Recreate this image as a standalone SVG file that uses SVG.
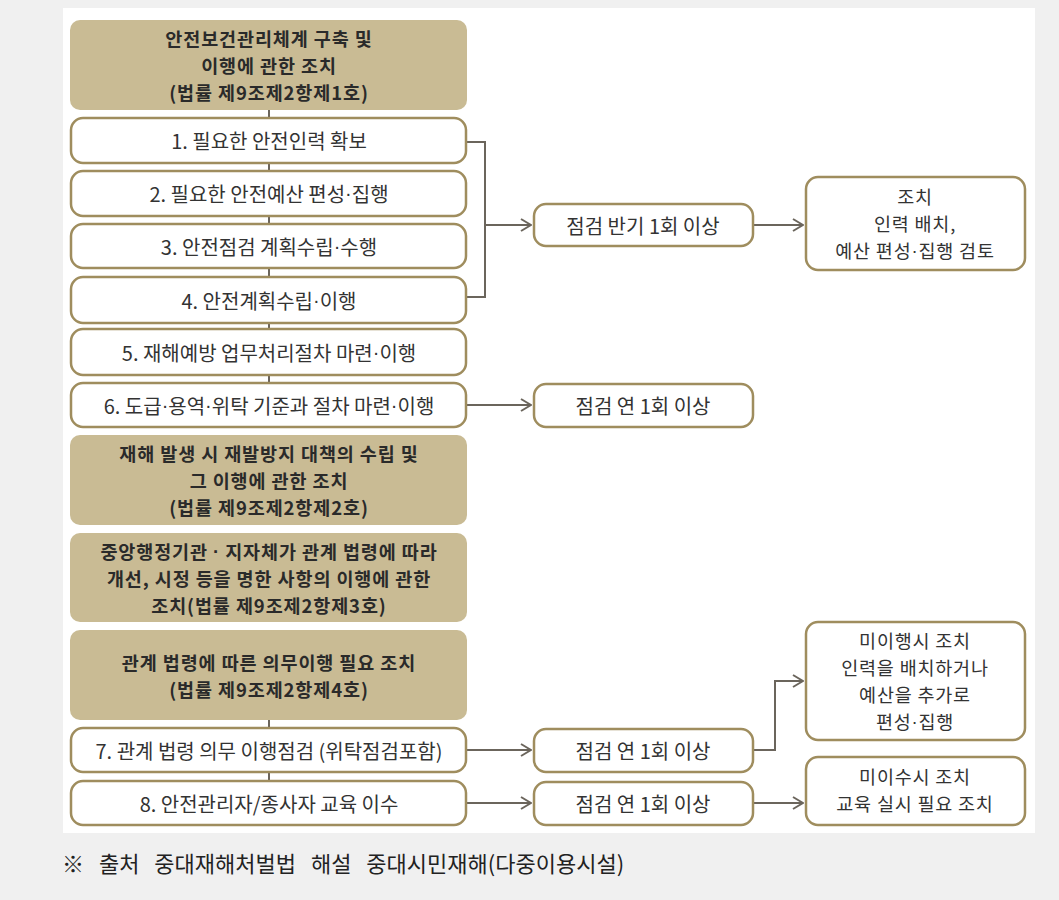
<svg xmlns="http://www.w3.org/2000/svg" width="1059" height="900" viewBox="0 0 1059 900">
<style>
.hd{fill:#c9bb94;}
.bx{fill:#fff;stroke:#9f8d5e;stroke-width:2.5;}
.ht{font-family:"Noto Sans CJK KR","Noto Sans",sans-serif;font-size:18.5px;font-weight:bold;letter-spacing:0.9px;fill:#2a2a2a;text-anchor:middle;dominant-baseline:central;}
.bt{font-family:"Noto Sans CJK KR","Noto Sans",sans-serif;font-size:20px;fill:#333;text-anchor:middle;dominant-baseline:central;}
.rt{font-family:"Noto Sans CJK KR","Noto Sans",sans-serif;font-size:18.5px;letter-spacing:0.8px;fill:#333;text-anchor:middle;dominant-baseline:central;}
.d{font-family:"Liberation Sans",sans-serif;}
.ln{fill:none;stroke:#6b655c;stroke-width:2;}
.ar{fill:none;stroke:#6b655c;stroke-width:2;marker-end:url(#a);}
.cap{font-family:"Noto Sans CJK KR","Noto Sans",sans-serif;font-size:22px;fill:#222;word-spacing:10px;}
</style>
<defs>
<marker id="a" viewBox="0 0 12 14" refX="11" refY="7" markerWidth="12" markerHeight="14" markerUnits="userSpaceOnUse" orient="auto">
<path d="M1,1 L11,7 L1,13" fill="none" stroke="#6b655c" stroke-width="2"/>
</marker>
</defs>
<rect x="0" y="0" width="1059" height="900" fill="#f0f0f0"/>
<rect x="63" y="8" width="972" height="825" fill="#fff"/>

<g id="connectors">
<line class="ln" x1="269" y1="110" x2="269" y2="117"/>
<line class="ln" x1="269" y1="163" x2="269" y2="171"/>
<line class="ln" x1="269" y1="216" x2="269" y2="224"/>
<line class="ln" x1="269" y1="268" x2="269" y2="277"/>
<line class="ln" x1="269" y1="323" x2="269" y2="329"/>
<line class="ln" x1="269" y1="375" x2="269" y2="383"/>
<line class="ln" x1="269" y1="720" x2="269" y2="727"/>
<line class="ln" x1="269" y1="772" x2="269" y2="781"/>
<polyline class="ln" points="467,142 485,142 485,297 467,297"/>
<line class="ar" x1="485" y1="225" x2="531" y2="225"/>
<line class="ar" x1="753" y1="225" x2="803" y2="225"/>
<line class="ar" x1="467" y1="405" x2="531" y2="405"/>
<line class="ar" x1="467" y1="750" x2="531" y2="750"/>
<polyline class="ar" points="753,750 775,750 775,681 803,681"/>
<line class="ar" x1="467" y1="803" x2="531" y2="803"/>
<line class="ar" x1="753" y1="803" x2="803" y2="803"/>
</g>

<g id="h1"><rect class="hd" x="70" y="20" width="397" height="90" rx="10"/>
<text class="ht"><tspan x="269" y="38">안전보건관리체계 구축 및</tspan><tspan x="269" y="65">이행에 관한 조치</tspan><tspan x="269" y="92">(법률 제9조제2항제1호)</tspan></text></g>

<g id="b1"><rect class="bx" x="71" y="118" width="395" height="45" rx="12"/><text class="bt" x="269" y="140">1. 필요한 안전인력 확보</text></g>
<g id="b2"><rect class="bx" x="71" y="171" width="395" height="45" rx="12"/><text class="bt" x="269" y="193">2. 필요한 안전예산 편성<tspan class="d">·</tspan>집행</text></g>
<g id="b3"><rect class="bx" x="71" y="224" width="395" height="44" rx="12"/><text class="bt" x="269" y="246">3. 안전점검 계획수립<tspan class="d">·</tspan>수행</text></g>
<g id="b4"><rect class="bx" x="71" y="277" width="395" height="46" rx="12"/><text class="bt" x="269" y="300">4. 안전계획수립<tspan class="d">·</tspan>이행</text></g>
<g id="b5"><rect class="bx" x="71" y="329" width="395" height="46" rx="12"/><text class="bt" x="269" y="352">5. 재해예방 업무처리절차 마련<tspan class="d">·</tspan>이행</text></g>
<g id="b6"><rect class="bx" x="71" y="383" width="395" height="44" rx="12"/><text class="bt" x="269" y="405">6. 도급<tspan class="d">·</tspan>용역<tspan class="d">·</tspan>위탁 기준과 절차 마련<tspan class="d">·</tspan>이행</text></g>

<g id="h2"><rect class="hd" x="70" y="435" width="397" height="90" rx="10"/>
<text class="ht"><tspan x="269" y="453">재해 발생 시 재발방지 대책의 수립 및</tspan><tspan x="269" y="480">그 이행에 관한 조치</tspan><tspan x="269" y="507">(법률 제9조제2항제2호)</tspan></text></g>

<g id="h3"><rect class="hd" x="70" y="533" width="397" height="89" rx="10"/>
<text class="ht"><tspan x="269" y="551">중앙행정기관 <tspan class="d">·</tspan> 지자체가 관계 법령에 따라</tspan><tspan x="269" y="578">개선, 시정 등을 명한 사항의 이행에 관한</tspan><tspan x="269" y="605">조치(법률 제9조제2항제3호)</tspan></text></g>

<g id="h4"><rect class="hd" x="70" y="630" width="397" height="90" rx="10"/>
<text class="ht"><tspan x="269" y="662">관계 법령에 따른 의무이행 필요 조치</tspan><tspan x="269" y="689">(법률 제9조제2항제4호)</tspan></text></g>

<g id="b7"><rect class="bx" x="71" y="728" width="395" height="44" rx="12"/><text class="bt" x="269" y="750">7. 관계 법령 의무 이행점검 (위탁점검포함)</text></g>
<g id="b8"><rect class="bx" x="71" y="781" width="395" height="44" rx="12"/><text class="bt" x="269" y="803">8. 안전관리자/종사자 교육 이수</text></g>

<g id="c1"><rect class="bx" x="534" y="204" width="219" height="42" rx="12"/><text class="bt" x="643" y="225">점검 반기 1회 이상</text></g>
<g id="c2"><rect class="bx" x="534" y="384" width="219" height="43" rx="12"/><text class="bt" x="643" y="405">점검 연 1회 이상</text></g>
<g id="c3"><rect class="bx" x="534" y="729" width="219" height="43" rx="12"/><text class="bt" x="643" y="750">점검 연 1회 이상</text></g>
<g id="c4"><rect class="bx" x="534" y="782" width="219" height="43" rx="12"/><text class="bt" x="643" y="803">점검 연 1회 이상</text></g>

<g id="r1"><rect class="bx" x="806" y="177" width="219" height="93" rx="12"/>
<text class="rt"><tspan x="915" y="196">조치</tspan><tspan x="915" y="223">인력 배치,</tspan><tspan x="915" y="250">예산 편성<tspan class="d">·</tspan>집행 검토</tspan></text></g>
<g id="r2"><rect class="bx" x="806" y="622" width="219" height="118" rx="12"/>
<text class="rt"><tspan x="915" y="640">미이행시 조치</tspan><tspan x="915" y="667">인력을 배치하거나</tspan><tspan x="915" y="694">예산을 추가로</tspan><tspan x="915" y="721">편성<tspan class="d">·</tspan>집행</tspan></text></g>
<g id="r3"><rect class="bx" x="806" y="757" width="219" height="68" rx="12"/>
<text class="rt"><tspan x="915" y="776">미이수시 조치</tspan><tspan x="915" y="803">교육 실시 필요 조치</tspan></text></g>

<text class="cap" x="62" y="872">※ 출처 중대재해처벌법 해설 중대시민재해(다중이용시설)</text>
</svg>
